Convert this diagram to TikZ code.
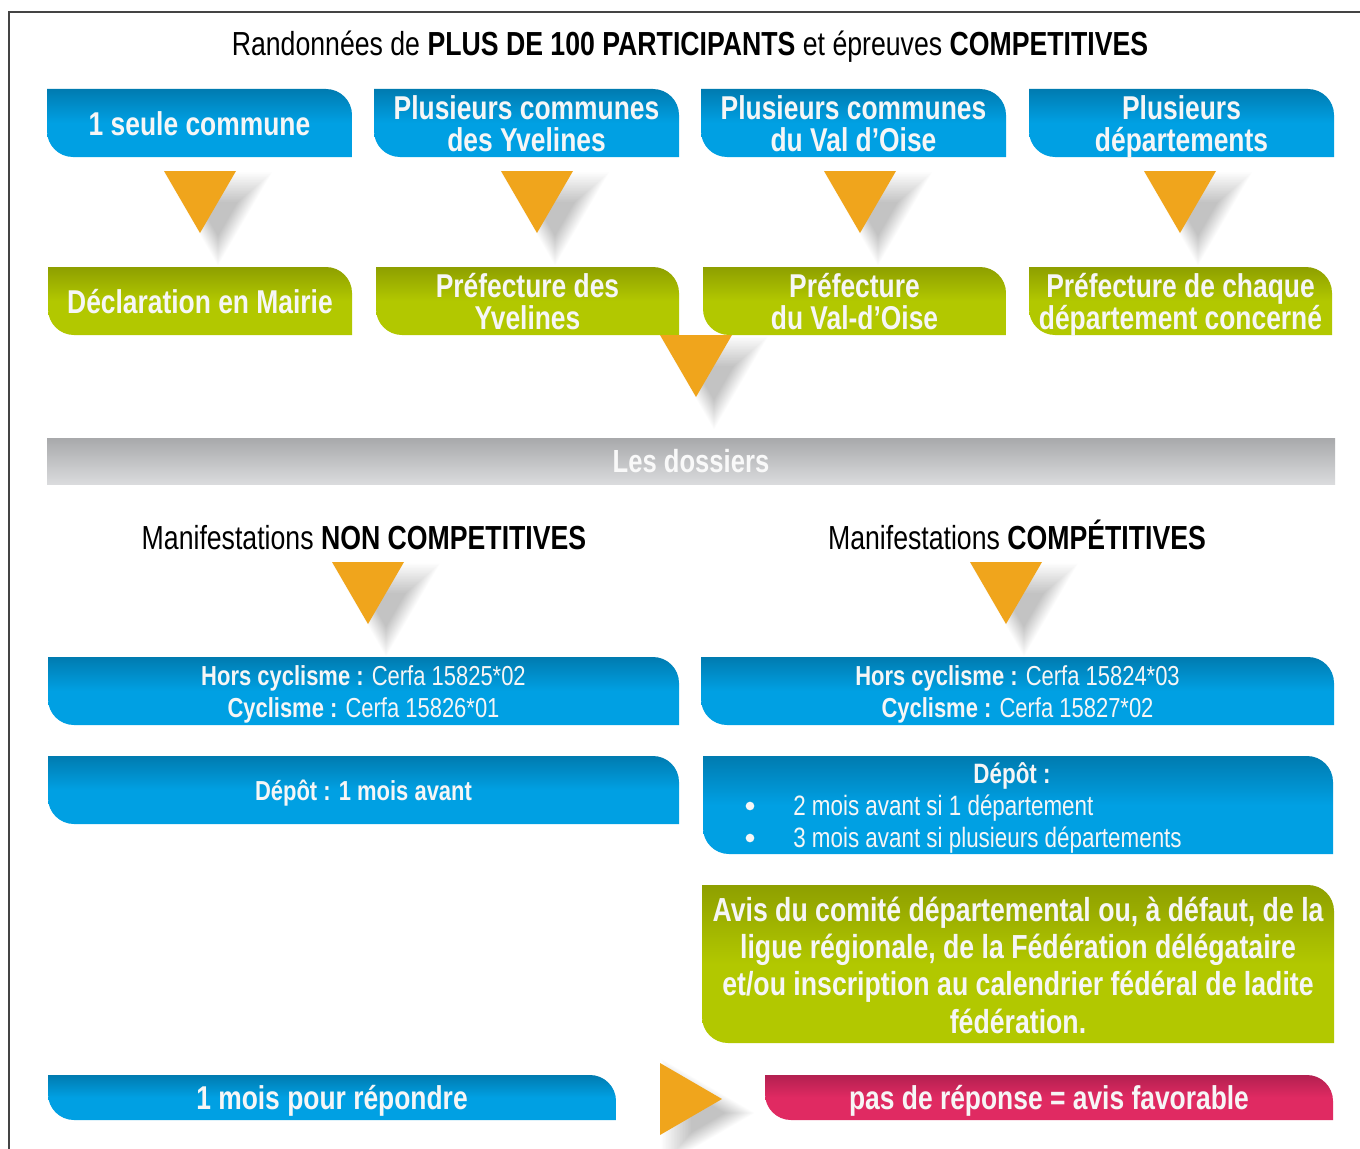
\documentclass[tikz,border=0pt]{standalone}
\usepackage{fontspec}
\setmainfont{Liberation Sans}[FakeStretch=0.8]
\usetikzlibrary{calc}
\pgfdeclarelayer{bottom}
\pgfdeclarelayer{background}
\pgfsetlayers{bottom,background,main}
\definecolor{blueB}{HTML}{00A0E3}
\definecolor{blueT}{HTML}{007BB0}
\definecolor{greenB}{HTML}{B2C800}
\definecolor{greenT}{HTML}{8E9F00}
\definecolor{pinkB}{HTML}{E02A62}
\definecolor{pinkT}{HTML}{B32050}
\definecolor{grayT}{HTML}{A8A9AB}
\definecolor{grayB}{HTML}{DADBDD}
\definecolor{orng}{HTML}{F0A51C}
\definecolor{bordercol}{HTML}{444444}
\definecolor{txtw}{HTML}{F6F6F6}
\def\rr{19.5pt}
% name, x1, y1, x2, y2, text style, shape style, text, text shift (px down)
\newcommand\tabbox[9]{%
  \pgfmathsetmacro\bw{(#4-#2)*0.75}%
  \pgfmathsetmacro\bh{(#5-#3)*0.75}%
  \node[frame,minimum width=\bw pt,minimum height=\bh pt] (#1) at ({(#2+#4)/2},{-(#3+#5)/2}) {};%
  \node[boxtext,#6] (#1-t) at ([yshift={-#9*0.75pt}]#1.center) {#8};%
  \begin{pgfonlayer}{background}%
  \shade[#7] (#1.north west) -- ([xshift=-\rr]#1.north east) arc[start angle=90,end angle=0,radius=\rr] -- (#1.south east) -- ([xshift=\rr]#1.south west) arc[start angle=270,end angle=180,radius=\rr] -- cycle;%
  \end{pgfonlayer}}
\newcommand\downtri[2]{%
  \begin{scope}[shift={({#1+18},{-#2-48})}]
    \foreach \s in {0.55,0.6,...,1.51}
      \fill[black,opacity=0.012,scale=\s] (-36,31) -- (36,31) -- (0,-31) -- cycle;
  \end{scope}
  \fill[orng] ({#1-36},{-#2}) -- ({#1+36},{-#2}) -- ({#1},{-#2-62}) -- cycle;}
\newcommand\righttri[2]{%
  \begin{scope}[shift={({#1+48},{-#2-50})}]
    \foreach \s in {0.55,0.6,...,1.51}
      \fill[black,opacity=0.012,scale=\s] (-31,36) -- (-31,-36) -- (31,0) -- cycle;
  \end{scope}
  \fill[orng] ({#1},{-#2}) -- ({#1},{-#2-72}) -- ({#1+62},{-#2-36}) -- cycle;}
\tikzset{
  frame/.style={inner sep=0pt, outer sep=0pt},
  boxtext/.style={text=txtw, align=center, inner sep=0pt},
  ft/.style={font=\fontsize{24.75}{24}\selectfont\bfseries},
  fm/.style={font=\fontsize{20.6}{24}\selectfont},
  fa/.style={font=\fontsize{25}{28}\selectfont\bfseries},
  fmtext/.style={text=txtw, inner sep=0pt, font=\fontsize{21}{24}\selectfont},
  bulletdot/.style={circle, fill=txtw, minimum size=6.5pt, inner sep=0pt},
  headtext/.style={text=black, inner sep=0pt, anchor=base, font=\fontsize{25}{28}\selectfont},
  blueshape/.style={top color=blueT, bottom color=blueB, middle color=blueB},
  greenshape/.style={top color=greenT, bottom color=greenB, middle color=greenB},
  pinkshape/.style={top color=pinkT, bottom color=pinkB, middle color=pinkB},
  bar/.style={top color=grayT, bottom color=grayB, inner sep=0pt, text=white!95!gray,
    font=\fontsize{24}{28}\selectfont\bfseries},
  border/.style={draw=bordercol, line width=1pt}
}
\begin{document}
\begin{tikzpicture}[x=0.75pt,y=0.75pt]
\useasboundingbox (0,0) rectangle (1360,-1149);
\begin{pgfonlayer}{bottom}
\fill[white] (0,0) rectangle (1360,-1149);
\end{pgfonlayer}
\draw[border] (9,-1149) -- (9,-12) -- (1360,-12);

\node[headtext] (title) at (690,-56) {Randonnées de \textbf{PLUS DE 100 PARTICIPANTS} et épreuves \textbf{COMPETITIVES}};

\tabbox{c1}{47}{89}{352}{157}{ft}{blueshape}{1 seule commune}{1}
\tabbox{c2}{374}{89}{679}{157}{ft}{blueshape}{Plusieurs communes\\des Yvelines}{1}
\tabbox{c3}{701}{89}{1006}{157}{ft}{blueshape}{Plusieurs communes\\du Val d’Oise}{1}
\tabbox{c4}{1029}{89}{1334}{157}{ft}{blueshape}{Plusieurs\\départements}{3.5}

\downtri{200}{171}
\downtri{537}{171}
\downtri{860}{171}
\downtri{1180}{171}

\tabbox{p1}{48}{267}{352}{335}{ft}{greenshape}{Déclaration en Mairie}{1}
\tabbox{p2}{376}{267}{679}{335}{ft}{greenshape}{Préfecture des\\Yvelines}{1}
\tabbox{p3}{703}{267}{1006}{335}{ft}{greenshape}{Préfecture\\du Val-d\char"0027Oise}{1}
\tabbox{p4}{1029}{267}{1332}{335}{ft}{greenshape}{Préfecture de chaque\\département concerné}{3.5}

\downtri{696}{335}

\node[bar, minimum width=966pt, minimum height=34.5pt] (dossiers) at (691,-461) {Les dossiers};

\node[headtext] (m1) at (364,-549) {Manifestations \textbf{NON COMPETITIVES}};
\node[headtext] (m2) at (1017,-549) {Manifestations \textbf{COMPÉTITIVES}};

\downtri{368}{562}
\downtri{1006}{562}

\tabbox{h1}{48}{657}{679}{725}{fm}{blueshape}{\textbf{Hors cyclisme :} Cerfa 15825*02\\\textbf{Cyclisme :} Cerfa 15826*01}{3}
\tabbox{h2}{701}{657}{1334}{725}{fm}{blueshape}{\textbf{Hors cyclisme :} Cerfa 15824*03\\\textbf{Cyclisme :} Cerfa 15827*02}{3}

\tabbox{d1}{48}{756}{679}{824}{fm}{blueshape}{\textbf{Dépôt : 1 mois avant}}{3}
\tabbox{d2}{703}{756}{1333}{854}{fm}{blueshape}{}{0}
\node[fmtext] (d2t) at (1012,-776) {\textbf{Dépôt :}};
\node[bulletdot] (bu1) at (750,-806) {};
\node[bulletdot] (bu2) at (750,-838) {};
\node[fmtext, anchor=west] (l1) at (793,-808) {2 mois avant si 1 département};
\node[fmtext, anchor=west] (l2) at (793,-840) {3 mois avant si plusieurs départements};

\tabbox{avis}{702}{885}{1334}{1043}{fa}{greenshape}{Avis du comité départemental ou, à défaut, de la\\ligue régionale, de la Fédération délégataire\\et/ou inscription au calendrier fédéral de ladite\\fédération.}{1}

\tabbox{rep}{48}{1075}{616}{1120}{ft}{blueshape}{1 mois pour répondre}{3}
\righttri{660}{1063}
\tabbox{fav}{765}{1075}{1333}{1120}{ft}{pinkshape}{pas de réponse = avis favorable}{3}
\end{tikzpicture}
\end{document}
